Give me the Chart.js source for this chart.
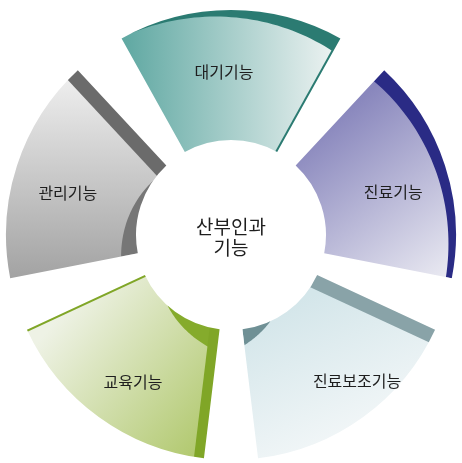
<!DOCTYPE html>
<html>
<head>
<meta charset="utf-8">
<script src="https://cdn.jsdelivr.net/npm/chart.js@4"></script>
<style>
  html, body { margin: 0; padding: 0; background: #fff; }
  #wrap { width: 462px; height: 463px; }
</style>
</head>
<body>
<div id="wrap"><canvas id="donut"></canvas></div>
<script>
const categories = ['대기기능', '진료기능', '진료보조기능', '교육기능', '관리기능'];
const shares = [1, 1, 1, 1, 1];
const centerLines = ['산부인과', '기능'];

const SPACING = 56;

// face gradients: [x0, y0, c0, x1, y1, c1] relative to the centre
const faces = [
  [-105, 0, '#61a9a3', 100, 0, '#eaf1f0'],
  [80, -100, '#8987bd', 200, 60, '#ececf3'],
  [60, 70, '#d4e6ea', 130, 215, '#f5f8f9'],
  [-175, 85, '#eef2e5', -20, 215, '#afc76a'],
  [0, -170, '#f3f3f3', 0, 50, '#a0a0a0']
];
// curved sides: segment, 'out' or 'in', from / to (fraction of the arc), width at from / to, colour
const bands = [
  [0, 'out', 0.05, 1, 0, 15, '#2b7b72'],
  [1, 'out', 0, 1, 15, 6, '#2a2b85'],
  [2, 'in', 0.7, 1, 0, 16, '#6f9095'],
  [3, 'in', 0, 0.6, 22, 0, '#85ab2c'],
  [4, 'in', 0, 0.78, 17, 0, '#767676']
];
// flat sides along a radial edge: segment, 'start' or 'end', width, colour
const strips = [
  [0, 'end', 2, '#2b7b72'],
  [2, 'start', 14, '#89a3a8'],
  [3, 'start', 10, '#80a627'],
  [3, 'end', 2, '#80a627'],
  [4, 'end', 14, '#6b6b6b']
];

let texCache = null;

function textures(chart) {
  const a = chart.chartArea;
  const ctrl = chart.getDatasetMeta(0).controller;
  const cx = (a.left + a.right) / 2, cy = (a.top + a.bottom) / 2;
  const sp = SPACING / 2;
  const R = ctrl.outerRadius + sp, r = ctrl.innerRadius + sp;
  const key = [cx, cy, R, r].join();
  if (texCache && texCache.key === key) return texCache.list;
  const alpha = 2 * Math.PI / 5;
  const avR = (ctrl.innerRadius - sp + ctrl.outerRadius) / 2;
  const so = (alpha - alpha * avR / (avR + sp)) / 2;
  const list = categories.map((_, i) => {
    const cv = document.createElement('canvas');
    cv.width = chart.width; cv.height = chart.height;
    const g = cv.getContext('2d');
    const a0 = -Math.PI / 2 - Math.PI / 5 + i * alpha + so;
    const a1 = a0 + alpha - 2 * so;
    const f = faces[i];
    const lg = g.createLinearGradient(cx + f[0], cy + f[1], cx + f[3], cy + f[4]);
    lg.addColorStop(0, f[2]); lg.addColorStop(1, f[5]);
    g.fillStyle = lg;
    g.fillRect(0, 0, cv.width, cv.height);
    bands.filter(b => b[0] === i).forEach(b => {
      const t0 = a0 + (a1 - a0) * b[2], t1 = a0 + (a1 - a0) * b[3];
      const n = 40;
      g.beginPath();
      for (let k = 0; k <= n; k++) {
        const t = t0 + (t1 - t0) * k / n;
        const w = b[4] + (b[5] - b[4]) * k / n;
        const rr = b[1] === 'out' ? R - w : r + w;
        g.lineTo(cx + Math.cos(t) * rr, cy + Math.sin(t) * rr);
      }
      const edge = b[1] === 'out' ? R + 20 : r - 20;
      for (let k = n; k >= 0; k--) {
        const t = t0 + (t1 - t0) * k / n;
        g.lineTo(cx + Math.cos(t) * edge, cy + Math.sin(t) * edge);
      }
      g.closePath();
      g.fillStyle = b[6];
      g.fill();
    });
    strips.filter(s => s[0] === i).forEach(s => {
      g.save();
      g.translate(cx, cy);
      g.rotate(s[1] === 'start' ? a0 : a1);
      g.fillStyle = s[3];
      if (s[1] === 'start') g.fillRect(0, -30, R + 30, 30 + s[2]);
      else g.fillRect(0, -s[2], R + 30, 30 + s[2]);
      g.restore();
    });
    return chart.ctx.createPattern(cv, 'no-repeat');
  });
  texCache = { key, list };
  return list;
}

const labelPlugin = {
  id: 'labels',
  afterDatasetsDraw(chart) {
    const c = chart.ctx;
    const meta = chart.getDatasetMeta(0);
    const a = chart.chartArea;
    const cx = (a.left + a.right) / 2, cy = (a.top + a.bottom) / 2;
    const nudge = [[-7, -3], [10, 6], [32, 16], [-4, 17], [-11, 7]];
    c.save();
    c.fillStyle = '#1e1e1e';
    c.textAlign = 'center';
    c.textBaseline = 'middle';
    c.font = '16px "Noto Sans CJK KR"';
    meta.data.forEach((arc, i) => {
      const p = arc.getProps(['startAngle', 'endAngle', 'innerRadius', 'outerRadius'], true);
      const ang = (p.startAngle + p.endAngle) / 2;
      const rr = (p.innerRadius + p.outerRadius) / 2 + SPACING / 2;
      c.fillText(categories[i], cx + Math.cos(ang) * rr + nudge[i][0], cy + Math.sin(ang) * rr + nudge[i][1]);
    });
    c.font = '19px "Noto Sans CJK KR"';
    c.fillText(centerLines[0], cx, cy - 8);
    c.fillText(centerLines[1], cx, cy + 13);
    c.restore();
  }
};

new Chart(document.getElementById('donut'), {
  type: 'doughnut',
  data: {
    labels: categories,
    datasets: [{
      data: shares,
      backgroundColor: ctx => {
        if (!ctx.chart.chartArea) return '#ddd';
        return textures(ctx.chart)[ctx.dataIndex];
      },
      borderWidth: 0
    }]
  },
  options: {
    responsive: true,
    maintainAspectRatio: false,
    animation: false,
    rotation: -36,
    cutout: '34%',
    spacing: SPACING,
    layout: { padding: { top: 10, bottom: 3, left: 6, right: 6 } },
    plugins: {
      legend: { display: false },
      tooltip: { enabled: false }
    }
  },
  plugins: [labelPlugin]
});
</script>
</body>
</html>
